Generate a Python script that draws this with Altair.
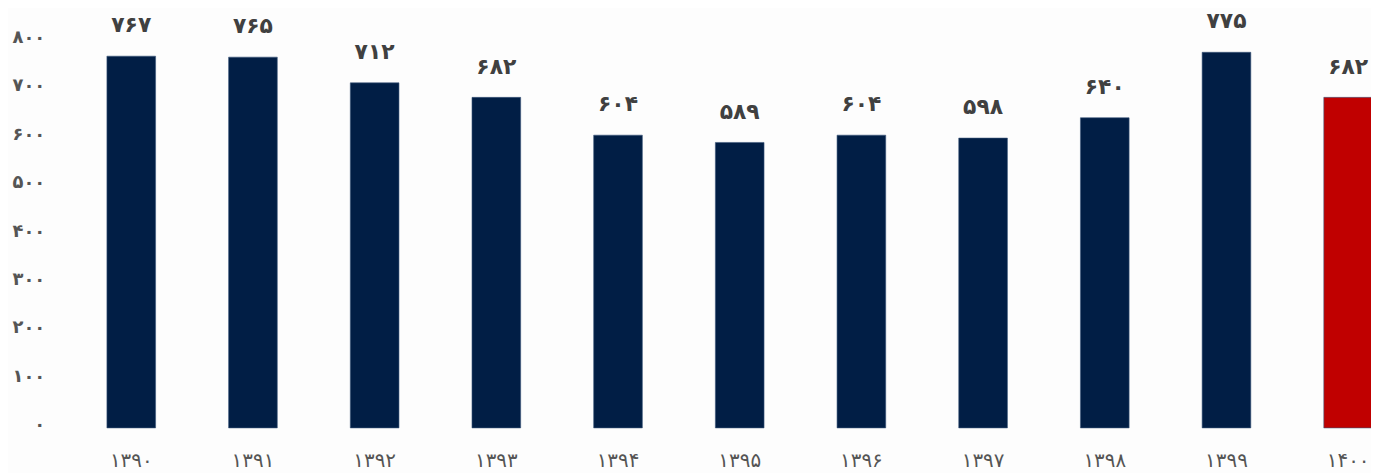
import altair as alt
import pandas as pd

years = [1390, 1391, 1392, 1393, 1394, 1395, 1396, 1397, 1398, 1399, 1400]
values = [767, 765, 712, 682, 604, 589, 604, 598, 640, 775, 682]
highlight = [False] * 10 + [True]
y_ticks = [0, 100, 200, 300, 400, 500, 600, 700, 800]

FA = str.maketrans("0123456789", "۰۱۲۳۴۵۶۷۸۹")

def fa(n):
    return str(n).translate(FA)

df = pd.DataFrame({
    "year": [fa(y) for y in years],
    "value": values,
    "label": [fa(v) for v in values],
    "hl": ["hl" if h else "base" for h in highlight],
})

order = [fa(y) for y in years]

label_expr = "datum.label"
for d, p in zip("0123456789", "۰۱۲۳۴۵۶۷۸۹"):
    label_expr = f"replace({label_expr}, regexp('{d}', 'g'), '{p}')"

FONT = "DejaVu Sans"

base = alt.Chart(df).encode(
    x=alt.X("year:N", sort=order,
            scale=alt.Scale(range=[52.5, 1325.5], paddingInner=0.6, paddingOuter=0),
            axis=alt.Axis(title=None, labelAngle=0, ticks=False, domain=False,
                          labelPadding=23, labelFontSize=20, labelColor="#555555",
                          labelFont=FONT, labelFontWeight="normal")),
)

bars = base.mark_bar(stroke="#3d587c", strokeWidth=0.6).encode(
    y=alt.Y("value:Q", scale=alt.Scale(domain=[0, 800], nice=False),
            axis=alt.Axis(title=None, values=y_ticks, grid=False, ticks=False, domain=False,
                          labelPadding=10, labelFontSize=18, labelColor="#555555",
                          labelFont=FONT, labelFontWeight="bold", labelOffset=-3,
                          labelExpr=label_expr)),
    color=alt.Color("hl:N", scale=alt.Scale(domain=["base", "hl"], range=["#011e45", "#c00000"]),
                    legend=None),
)

texts = base.mark_text(dy=-31, fontSize=22, fontWeight="bold", color="#404040", font=FONT,
                       baseline="middle").encode(
    y=alt.Y("value:Q"),
    text="label:N",
)

chart = (bars + texts).properties(
    width=1324, height=390,
    autosize=alt.AutoSizeParams(type="none"),
    padding={"left": 47, "top": 31, "right": 0, "bottom": 45},
    background="#fdfdfd",
).configure_view(stroke=None)

chart.save("out.html", embed_options={"renderer": "svg", "actions": False})
